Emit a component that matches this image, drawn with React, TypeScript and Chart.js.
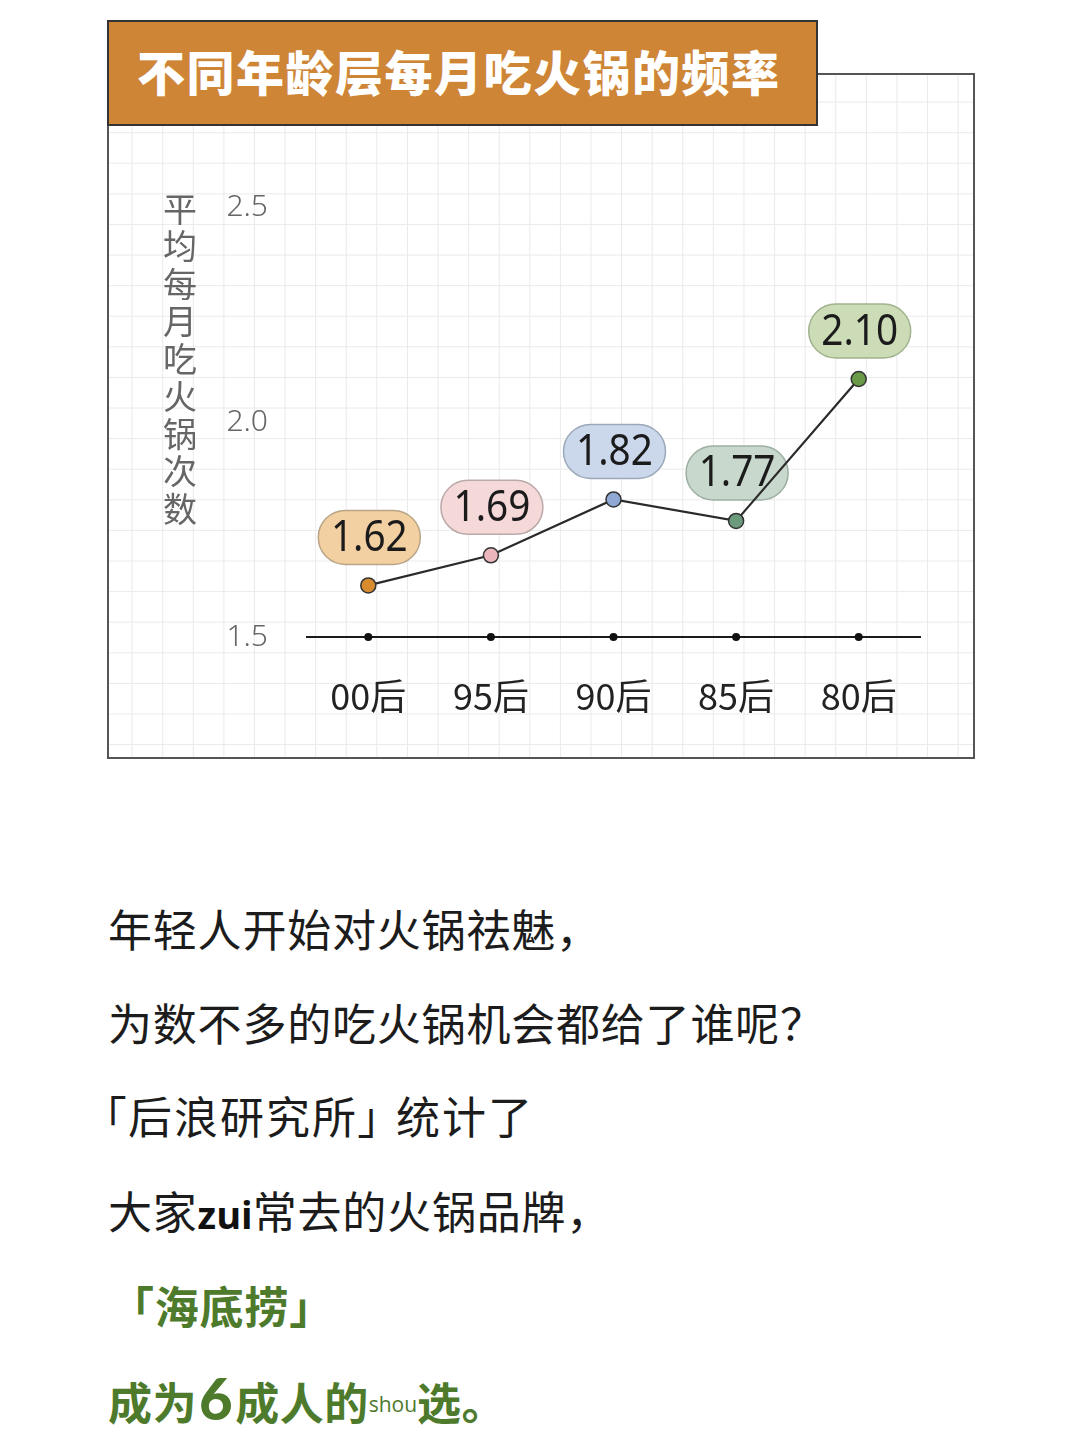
import React, { useEffect, useRef } from "react";
import { Chart, registerables } from "chart.js";

Chart.register(...registerables);

// ---- data ----
const categories = ["00后", "95后", "90后", "85后", "80后"];
const frequency = [1.62, 1.69, 1.82, 1.77, 2.1];
const valueLabels = ["1.62", "1.69", "1.82", "1.77", "2.10"];
const baseline = [1.5, 1.5, 1.5, 1.5, 1.5];
const yMin = 1.5;
const yMax = 2.5;
const yStep = 0.5;
const yTitle = "平均每月吃火锅次数";
const chartTitle = "不同年龄层每月吃火锅的频率";

// ---- styles ----
const pointColors = ["#D98C2E", "#EBB7BC", "#8FA8D4", "#6C9A7D", "#6A9A48"];
const pillFills = ["#F2D0A2", "#F5D9D9", "#CBD8EB", "#C8D8CC", "#CBDCB6"];
const pillBorders = ["#B8A586", "#BCA9AA", "#9BA8BA", "#9DAFA2", "#A1B38F"];

const FRAME = { left: 107, top: 73, width: 868, height: 686 };

const pillPlugin = {
  id: "pills",
  beforeDatasetsDraw(chart: any) {
    const ctx = chart.ctx;
    const meta = chart.getDatasetMeta(0);
    ctx.save();
    meta.data.forEach((pt: any, i: number) => {
      const cx = pt.x + 1;
      const cy = pt.y - 48;
      const w = 102;
      const h = 54;
      ctx.beginPath();
      ctx.roundRect(cx - w / 2, cy - h / 2, w, h, h / 2);
      ctx.fillStyle = pillFills[i];
      ctx.fill();
      ctx.lineWidth = 1.5;
      ctx.strokeStyle = pillBorders[i];
      ctx.stroke();
      ctx.save();
      ctx.translate(cx, cy + 1);
      ctx.scale(0.88, 1);
      ctx.font = "400 44px 'Noto Sans', sans-serif";
      ctx.fillStyle = "#1b1b1b";
      ctx.textAlign = "center";
      ctx.textBaseline = "middle";
      ctx.fillText(valueLabels[i], 0, 0);
      ctx.restore();
    });
    ctx.restore();
  },
};

const yTitlePlugin = {
  id: "yTitleStack",
  afterDraw(chart: any) {
    const ctx = chart.ctx;
    const area = chart.chartArea;
    ctx.save();
    ctx.font = "400 34px 'Noto Sans CJK SC', sans-serif";
    ctx.fillStyle = "#666";
    ctx.textAlign = "center";
    ctx.textBaseline = "middle";
    const chars = Array.from(yTitle);
    const x = area.left - 127;
    const y0 = area.top + 2;
    chars.forEach((c, i) => {
      ctx.fillText(c, x, y0 + i * 37.5);
    });
    ctx.restore();
  },
};

function ChartCanvas() {
  const ref = useRef<HTMLCanvasElement | null>(null);
  useEffect(() => {
    if (!ref.current) return;
    const chart = new Chart(ref.current, {
      type: "line",
      data: {
        labels: categories,
        datasets: [
          {
            data: frequency,
            borderColor: "#2a2a2a",
            borderWidth: 2.2,
            pointBackgroundColor: pointColors,
            pointBorderColor: "#333",
            pointBorderWidth: 1.5,
            pointRadius: 7.5,
            tension: 0,
            clip: false as any,
            order: 0,
          },
          {
            data: baseline,
            showLine: false,
            pointBackgroundColor: "#111",
            pointBorderColor: "#111",
            pointRadius: 4,
            pointBorderWidth: 0,
            clip: false as any,
            order: 1,
          },
        ],
      },
      options: {
        animation: false,
        responsive: false,
        maintainAspectRatio: false,
        layout: { padding: { top: 134, right: 55, left: 0, bottom: 0 } },
        plugins: {
          legend: { display: false },
          tooltip: { enabled: false },
          title: { display: false },
        },
        scales: {
          x: {
            type: "category",
            offset: true,
            grid: { display: false, drawTicks: false },
            border: { display: true, color: "#1a1a1a", width: 2 },
            ticks: {
              color: "#222",
              padding: 38,
              font: { family: "'Noto Sans CJK SC', sans-serif", size: 36 },
              maxRotation: 0,
            },
            afterFit: (scale: any) => {
              scale.height = 122;
            },
          },
          y: {
            min: yMin,
            max: yMax,
            grid: { display: false, drawTicks: false },
            border: { display: false },
            ticks: {
              stepSize: yStep,
              color: "#666",
              padding: 39,
              font: { family: "'Noto Sans', sans-serif", size: 30, weight: "300" as any },
              callback: (v: any) => Number(v).toFixed(1),
            },
            afterFit: (scale: any) => {
              scale.width = 200;
            },
          },
        },
      },
      plugins: [pillPlugin, yTitlePlugin],
    });
    return () => chart.destroy();
  }, []);
  return (
    <canvas
      ref={ref}
      width={FRAME.width}
      height={FRAME.height}
      style={{
        position: "absolute",
        left: FRAME.left,
        top: FRAME.top,
        width: FRAME.width,
        height: FRAME.height,
      }}
    />
  );
}

const bodyFont = "'Noto Sans CJK SC', 'Noto Sans', sans-serif";
const green = "#4E7A2C";

function Line({ top, children, left = 108, style = {} }: any) {
  return (
    <div
      style={{
        position: "absolute",
        left,
        top: top - 30,
        height: 60,
        lineHeight: "60px",
        fontFamily: bodyFont,
        fontSize: 44,
        letterSpacing: 0.8,
        color: "#1c1c1c",
        whiteSpace: "nowrap",
        ...style,
      }}
    >
      {children}
    </div>
  );
}

export default function App() {
  return (
    <div style={{ position: "absolute", left: 0, top: 0, width: 1080, height: 1443, background: "#fff" }}>
      {/* frame with grid */}
      <div
        style={{
          position: "absolute",
          left: FRAME.left,
          top: FRAME.top,
          width: FRAME.width,
          height: FRAME.height,
          boxSizing: "border-box",
          border: "2px solid #555",
          backgroundColor: "#fff",
          backgroundImage:
            "linear-gradient(to right, #eaeaea 1px, transparent 1px), linear-gradient(to bottom, #eaeaea 1px, transparent 1px)",
          backgroundSize: "30.6px 30.6px",
          backgroundPosition: "-8px -4px",
        }}
      />
      <ChartCanvas />
      {/* title box */}
      <div
        style={{
          position: "absolute",
          left: 107,
          top: 20,
          width: 711,
          height: 106,
          boxSizing: "border-box",
          border: "2px solid #333",
          background: "#CE8536",
          color: "#fff",
          fontFamily: bodyFont,
          fontWeight: 900,
          fontSize: 48,
          letterSpacing: 1.5,
          lineHeight: "96px",
          paddingLeft: 28,
          whiteSpace: "nowrap",
        }}
      >
        {chartTitle}
      </div>

      <Line top={928}>年轻人开始对火锅祛魅，</Line>
      <Line top={1022}>为数不多的吃火锅机会都给了谁呢？</Line>
      <Line top={1115} left={104} style={{ fontFeatureSettings: "'palt'", letterSpacing: 2 }}>
        「后浪研究所」<span style={{ marginLeft: 14 }}>统计了</span>
      </Line>
      <Line top={1210}>
        大家
        <span style={{ fontFamily: "'Open Sans', sans-serif", fontWeight: 700, fontSize: 38, color: "#111", letterSpacing: 0 }}>zui</span>
        常去的火锅品牌，
      </Line>
      <Line top={1305} left={110} style={{ color: green, fontWeight: 700, fontSize: 44 }}>
        「海底捞」
      </Line>
      <Line top={1398} style={{ color: green, fontWeight: 700, fontSize: 44, letterSpacing: 0.5 }}>
        成为
        <span style={{ fontFamily: "'Lato', sans-serif", fontWeight: 900, fontSize: 58, margin: "0 2px" }}>6</span>
        成人的
        <span
          style={{
            fontFamily: "'Open Sans', sans-serif",
            fontWeight: 400,
            fontSize: 21,
            letterSpacing: 0,
            position: "relative",
            top: -8,
          }}
        >
          shou
        </span>
        选。
      </Line>
    </div>
  );
}
